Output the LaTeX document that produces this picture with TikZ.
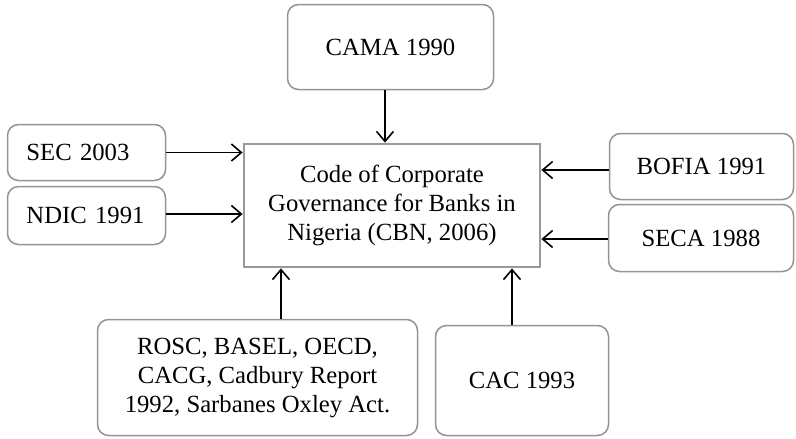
\documentclass[tikz,border=0pt]{standalone}
\usepackage{fontspec}
\setmainfont{Liberation Serif}
\usetikzlibrary{arrows.meta,positioning}

\tikzset{
  src/.style={draw=black!42, line width=1.5pt, rounded corners=11pt, fill=white,
              align=center, inner sep=0pt},
  core/.style={draw=black!40, line width=2.8pt, fill=white, align=center,
               minimum width=296pt, minimum height=123pt, inner sep=0pt},
}

\begin{document}
\begin{tikzpicture}[x=1pt,y=-1pt,>={Straight Barb[length=10pt,width=17pt]},
                    font=\fontsize{24.7}{29}\selectfont]
        \useasboundingbox (0,0) rectangle (796,439);

        \node[core] (CBN)   at (392,205.5) {Code of Corporate\\Governance for Banks in\\Nigeria (CBN, 2006)};

        \node[src, minimum width=206pt, minimum height=85pt]  (CAMA)  at (390.5,47)  {CAMA 1990};
        \node[src, minimum width=158pt, minimum height=56pt, text width=120pt, align=left]
                                                             (SEC)   at (86.5,152.5) {SEC 2003};
        \node[src, minimum width=158pt, minimum height=58pt, text width=120pt, align=left]
                                                             (NDIC)  at (86.5,215.5) {NDIC 1991};
        \node[src, minimum width=184pt, minimum height=66pt]  (BOFIA) at (701.5,166.5) {BOFIA 1991};
        \node[src, minimum width=185pt, minimum height=67pt]  (SECA)  at (701,238)   {SECA 1988};
        \node[src, minimum width=320pt, minimum height=116pt] (INTL)  at (257.5,377.5)
              {ROSC, BASEL, OECD,\\CACG, Cadbury Report\\1992, Sarbanes Oxley Act.};
        \node[src, minimum width=173pt, minimum height=110pt] (CAC)   at (522,380.5) {CAC 1993};

        \path[->, line width=1.6pt]
                  ([xshift=-5.5pt]CAMA.south) edge ([xshift=-5.5pt]CAMA.south |- CBN.north)
                  (SEC.east)                  edge (SEC.east -| CBN.west)
                  ([yshift=1.5pt]NDIC.east)   edge ([yshift=1.5pt]NDIC.east -| CBN.west)
                  ([yshift=-3.5pt]BOFIA.west) edge ([yshift=-3.5pt]BOFIA.west -| CBN.east)
                  ([yshift=-1pt]SECA.west)    edge ([yshift=-1pt]SECA.west -| CBN.east)
                  ([xshift=23.5pt]INTL.north) edge ([xshift=23.5pt]INTL.north |- CBN.south)
                  ([xshift=-10pt]CAC.north)   edge ([xshift=-10pt]CAC.north |- CBN.south);
\end{tikzpicture}
\end{document}
